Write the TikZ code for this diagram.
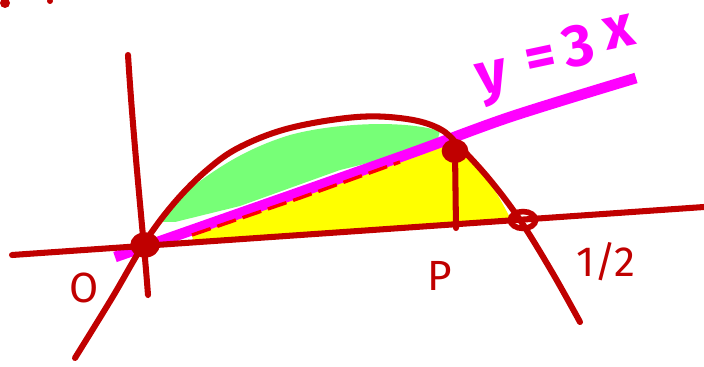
\documentclass[tikz,border=0pt]{standalone}
\usepackage{fontspec}
\setmainfont{Fira Sans}
\usetikzlibrary{arrows.meta,positioning,calc,shapes.geometric}
\definecolor{Ink}{HTML}{C00000}
\definecolor{Streak}{HTML}{FF0000}
\definecolor{Pink}{HTML}{FF00FF}
\definecolor{Leaf}{HTML}{77FF77}
\definecolor{Lemon}{HTML}{FFFF00}
\tikzset{
  pen/.style={draw=Ink,line width=4.3pt,line cap=round,line join=round},
  ray/.style={draw=Pink,line width=7.6pt,line cap=butt},
  streak/.style={draw=Streak,line width=2.4pt,dash pattern=on 14pt off 5pt},
  dot/.style={ellipse,fill=Ink,inner sep=0pt,minimum width=21pt,minimum height=18pt},
  ring/.style={ellipse,draw=Ink,line width=4pt,inner sep=0pt,minimum width=18pt,minimum height=12pt},
  lab/.style={font=\fontsize{30}{30}\selectfont,text=Ink},
  eq/.style={font=\fontsize{42}{42}\selectfont\bfseries,text=Pink,inner sep=0pt,rotate=12},
}
\begin{document}
\begin{tikzpicture}[x=0.025cm,y=-0.025cm]
\useasboundingbox (0,0) rectangle (704,367);
% shaded regions under the arc
\fill[Leaf] (160,222) -- (176,200) .. controls (205,176) and (240,150) .. (290,135)
  .. controls (330,124) and (400,119) .. (440,131) -- (436,146) -- (340,170) -- (240,206) -- (175,222) -- cycle;
\fill[Lemon] (192,236) -- (300,196) -- (445,146) -- (462,150) .. controls (485,172) and (500,197) .. (512,222)
  -- (300,236) -- (194,243) -- cycle;
% the line y=3x
\draw[ray] plot[smooth] coordinates {(115,257) (175,236) (400,157) (510,117) (636,78)};
\draw[streak] (192,235) -- (300,198) -- (400,162);
% axes
\draw[pen] (12,255) -- (704,207);
\draw[pen] (128,55) .. controls (134,150) and (144,240) .. (148,295);
% the arc
\draw[pen] plot[smooth,tension=0.6] coordinates {(75,358) (112,298) (145,242) (175,202) (207,170) (240,147)
  (290,128) (357,117) (407,119) (440,129) (460,147) (490,180) (520,220) (552,272) (580,322)};
% marked points
\node[dot] (o) at (145,245) {};
\node[dot,minimum width=19pt,minimum height=17pt] (q) at (455,151) {};
\node[ring] (h) at (523,220) {};
\coordinate (p) at (456,228);
\draw[pen] (q) -- (p);
% labels
\node[lab] (ol) at (84,288) {O};
\node[lab] (pl) at (440,276) {P};
\node[lab] (hl) at (606,262) {1/2};
\node[eq] (ty) at (494,83) {y};
\node[eq] (teq) at (541,62) {=};
\node[eq] (tthree) at (578,46) {3};
\node[eq] (tx) at (619,32) {x};
% stray marks at the top
\fill[Ink] (5,3) circle (5);
\fill[Ink] (50,1) circle (3);
\end{tikzpicture}
\end{document}
